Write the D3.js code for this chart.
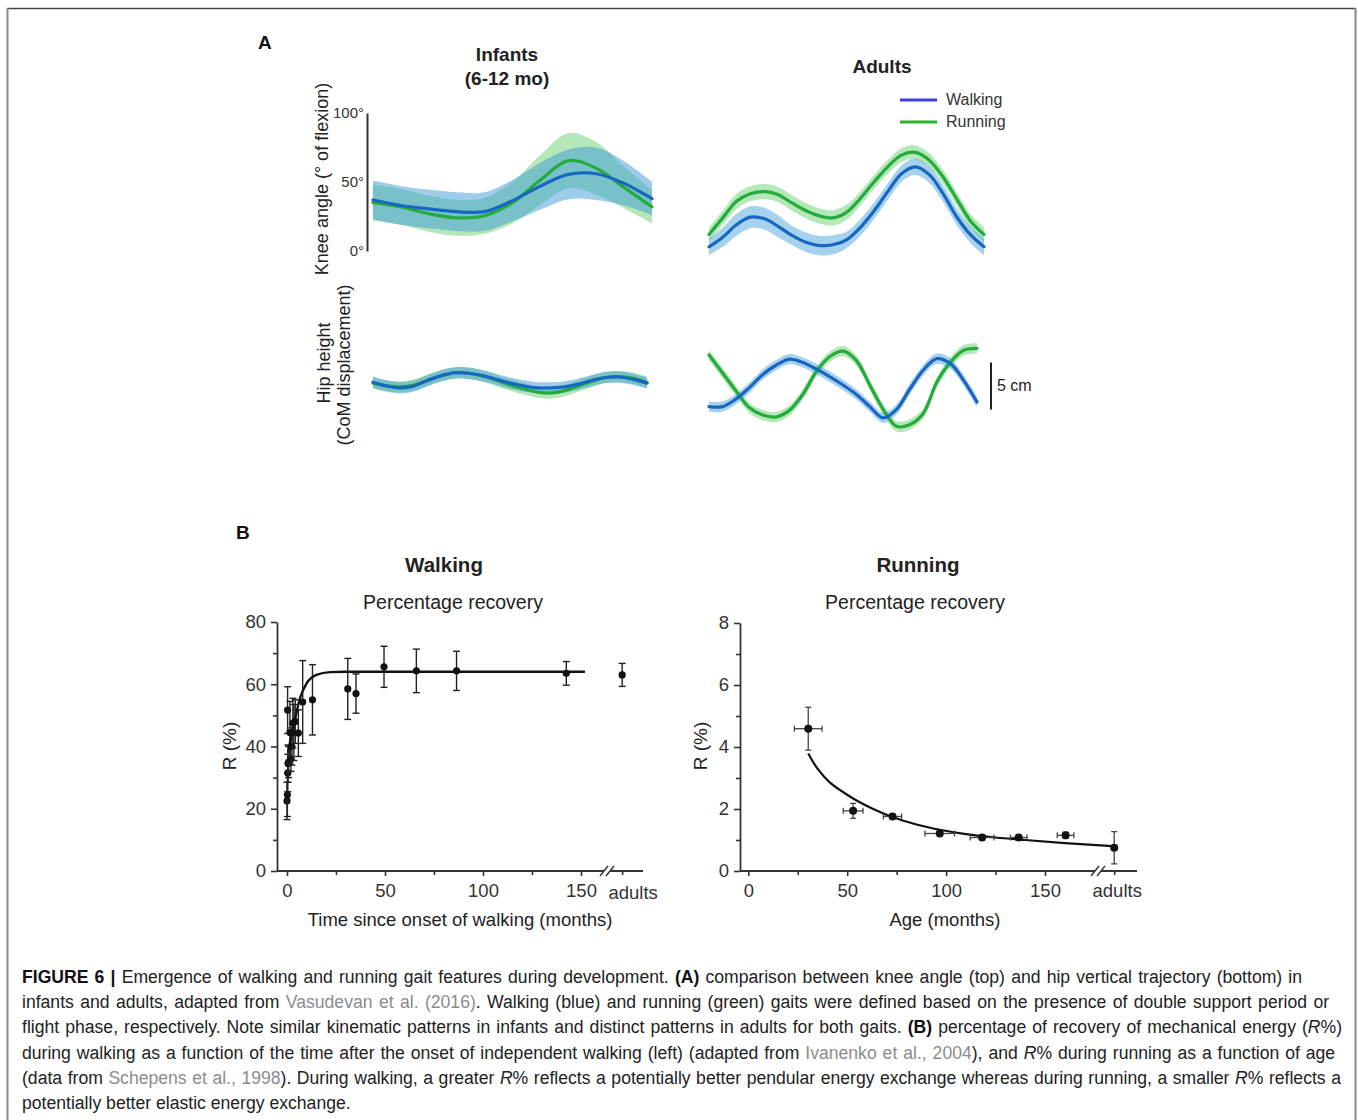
<!DOCTYPE html>
<html>
<head>
<meta charset="utf-8">
<script src="https://cdn.jsdelivr.net/npm/d3@7"></script>
<style>
  body { margin: 0; background: #fff; }
  svg { display: block; font-family: "Liberation Sans", Arial, sans-serif; }
</style>
</head>
<body>
<svg id="fig" width="1358" height="1120"></svg>
<script>
// ---- panel A : gait cycle samples (% of cycle) ----
const cycle11 = [0, 10, 20, 30, 40, 50, 60, 70, 80, 90, 100];
const cycle21 = [0, 5, 10, 15, 20, 25, 30, 35, 40, 45, 50, 55, 60, 65, 70, 75, 80, 85, 90, 95, 100];

// knee angle (deg), infants
const infKneeWalk   = [37, 33, 30.5, 28.5, 28.5, 36.5, 47, 55.5, 56, 49, 38];
const infKneeWalkSD = [14, 14, 14, 14, 14, 15, 17, 18, 19, 16, 12];
const infKneeRun    = [35, 32, 27, 24, 25.5, 35, 51.5, 65.5, 60, 46, 32];
const infKneeRunSD  = [13, 13, 13, 13, 13, 15, 18, 20, 19, 15, 12];

// knee angle (deg), adults
const adKneeWalk   = [3, 10, 19, 24.5, 23.5, 18, 11.5, 6.5, 4, 4.5, 8, 17, 29, 43, 56, 61, 55.5, 42, 25, 12, 3];
const adKneeWalkSD = [6, 7, 8, 8, 8, 8, 7, 7, 7, 7, 6, 6, 6, 6, 6, 6, 6, 6, 6, 6, 6];
const adKneeRun    = [12, 24, 36, 41.5, 43, 41, 35, 29.5, 25.5, 24, 28, 38, 50, 61, 69.5, 71.5, 66, 54, 38, 22, 12];
const adKneeRunSD  = [5, 5, 5.5, 5.5, 5.5, 5.5, 5.5, 5.5, 5.5, 5.5, 5.5, 5, 5, 5, 5, 5, 5, 5, 5, 5, 5];

// hip height (cm), infants
const infHipWalk   = [0.3, -0.1, -0.3, -0.1, 0.5, 1.0, 1.3, 1.25, 1.0, 0.6, 0.2, -0.1, -0.3, -0.3, -0.2, 0.1, 0.5, 0.8, 0.85, 0.6, 0.2];
const infHipWalkSD = [0.6, 0.6, 0.6, 0.6, 0.6, 0.6, 0.6, 0.6, 0.6, 0.6, 0.6, 0.6, 0.6, 0.6, 0.6, 0.6, 0.6, 0.6, 0.6, 0.6, 0.6];
const infHipRun    = [0.2, -0.1, -0.2, 0.0, 0.5, 1.0, 1.3, 1.25, 0.95, 0.5, 0.0, -0.4, -0.75, -0.85, -0.6, -0.1, 0.4, 0.8, 0.9, 0.7, 0.3];
const infHipRunSD  = [0.6, 0.6, 0.6, 0.6, 0.6, 0.6, 0.6, 0.6, 0.6, 0.6, 0.6, 0.6, 0.6, 0.6, 0.6, 0.6, 0.6, 0.6, 0.6, 0.6, 0.6];

// hip height (cm), adults
const adHipWalk   = [-2.3, -2.3, -1.5, -0.3, 1.1, 2.1, 2.75, 2.4, 1.7, 0.9, 0, -1.0, -2.3, -3.5, -2.6, -0.4, 1.6, 2.8, 2.3, 0.5, -1.8];
const adHipWalkSD = [0.55, 0.55, 0.55, 0.55, 0.55, 0.55, 0.55, 0.55, 0.55, 0.55, 0.55, 0.55, 0.55, 0.55, 0.55, 0.55, 0.55, 0.55, 0.55, 0.55, 0.55];
const adHipRun    = [3.2, 1.3, -0.6, -2.4, -3.2, -3.4, -2.7, -1.0, 1.4, 3.0, 3.6, 2.6, 0.0, -2.6, -4.4, -4.2, -3.0, 0.3, 2.4, 3.7, 3.9];
const adHipRunSD  = [0.55, 0.55, 0.55, 0.55, 0.55, 0.55, 0.55, 0.55, 0.55, 0.55, 0.55, 0.55, 0.55, 0.55, 0.55, 0.55, 0.55, 0.55, 0.55, 0.55, 0.55];

const kneeTicks = [0, 50, 100];
const legendItems = ["Walking", "Running"];

// ---- panel B : walking recovery ----
const walkMonths = [0, 0.2, 0.4, 0.5, 0.8, 0.3, 1.5, 2.0, 2.5, 3.0, 3.5, 4.2, 5.8, 8, 13, 31, 35.2, 49.5, 66, 86.5, 142.5];
const walkR      = [22.5, 24.5, 31.5, 34.5, 35, 51.7, 44.5, 36, 40, 47.5, 44.5, 48, 44.3, 54.3, 55, 58.5, 57, 65.6, 64.3, 64.3, 63.5];
const walkErr    = [6, 7, 6, 6, 5, 7.5, 10, 4, 6, 8, 9, 7, 7.5, 13.3, 11.3, 9.8, 6.3, 6.6, 7, 6.3, 3.8];
const walkAdultR = 63, walkAdultErr = 3.7;
const walkFitMonths = [0.6, 2, 4, 6.6, 10, 15, 22, 30, 60, 100, 152];
const walkFitR      = [38, 43, 48.5, 55.5, 60.3, 63, 63.9, 64, 64, 64, 64];
const walkYTicks = [0, 20, 40, 60, 80];
const walkYMinor = [10, 30, 50, 70];

// ---- panel B : running recovery ----
const runMonths = [30.3, 53, 72.9, 96.8, 118.2, 136.7, 160.4];
const runR      = [4.59, 1.94, 1.76, 1.21, 1.08, 1.08, 1.15];
const runYErr   = [0.69, 0.24, 0.08, 0.08, 0.08, 0.08, 0.1];
const runXErr   = [7, 5, 4.6, 7.5, 6, 4.2, 4.2];
const runAdultR = 0.75, runAdultErr = 0.52;
const runFitMonths = [30.3, 35, 41.3, 53, 60, 72.9, 85, 96.8, 110, 125, 140, 160, 184];
const runFitR      = [3.79, 3.3, 2.85, 2.34, 2.1, 1.74, 1.5, 1.33, 1.19, 1.08, 1.0, 0.9, 0.8];
const runYTicks = [0, 2, 4, 6, 8];
const runYMinor = [1, 3, 5, 7];

const xTicks = [0, 50, 100, 150];
const xMinor = [25, 75, 125];

// ---- caption ----
const caption = [
  [["FIGURE 6 | ", "b"], ["Emergence of walking and running gait features during development. ", ""], ["(A)", "b"], [" comparison between knee angle (top) and hip vertical trajectory (bottom) in", ""]],
  [["infants and adults, adapted from ", ""], ["Vasudevan et al. (2016)", "l"], [". Walking (blue) and running (green) gaits were defined based on the presence of double support period or", ""]],
  [["flight phase, respectively. Note similar kinematic patterns in infants and distinct patterns in adults for both gaits. ", ""], ["(B)", "b"], [" percentage of recovery of mechanical energy (", ""], ["R", "i"], ["%)", ""]],
  [["during walking as a function of the time after the onset of independent walking (left) (adapted from ", ""], ["Ivanenko et al., 2004", "l"], ["), and ", ""], ["R", "i"], ["% during running as a function of age", ""]],
  [["(data from ", ""], ["Schepens et al., 1998", "l"], ["). During walking, a greater ", ""], ["R", "i"], ["% reflects a potentially better pendular energy exchange whereas during running, a smaller ", ""], ["R", "i"], ["% reflects a", ""]],
  [["potentially better elastic energy exchange.", ""]]
];

// ====================================================
const svg = d3.select("#fig");
const BLUE = "#1767c2", GREEN = "#23ac3c";
const BLUE_BAND = "#3c9bd7", GREEN_BAND = "#46c350";

// frame
svg.append("line").attr("x1", 7).attr("x2", 1356).attr("y1", 8.5).attr("y2", 8.5).attr("stroke", "#444").attr("stroke-width", 1.6);
svg.append("line").attr("x1", 7.5).attr("x2", 7.5).attr("y1", 8).attr("y2", 1120).attr("stroke", "#888").attr("stroke-width", 2);
svg.append("line").attr("x1", 1355.5).attr("x2", 1355.5).attr("y1", 8).attr("y2", 1120).attr("stroke", "#888").attr("stroke-width", 2);

function txt(g, x, y, s, size, opts = {}) {
  return g.append("text").attr("x", x).attr("y", y).text(s)
    .attr("font-size", size)
    .attr("font-weight", opts.bold ? "bold" : null)
    .attr("text-anchor", opts.anchor || "middle")
    .attr("fill", opts.fill || "#222");
}
function vtxt(g, x, y, s, size) {
  return g.append("text").attr("transform", `translate(${x},${y}) rotate(-90)`)
    .attr("text-anchor", "middle").attr("dominant-baseline", "central")
    .attr("font-size", size).attr("fill", "#222").text(s);
}

function drawBand(g, xs, mean, sd, x, y, fill, op) {
  const area = d3.area()
    .x((d, i) => x(xs[i]))
    .y0((d, i) => y(mean[i] - sd[i]))
    .y1((d, i) => y(mean[i] + sd[i]))
    .curve(d3.curveCatmullRom);
  g.append("path").datum(mean).attr("d", area).attr("fill", fill).attr("fill-opacity", op);
}
function drawMean(g, xs, mean, x, y, color) {
  const line = d3.line().x((d, i) => x(xs[i])).y(d => y(d)).curve(d3.curveCatmullRom);
  g.append("path").datum(mean).attr("d", line).attr("fill", "none")
    .attr("stroke", color).attr("stroke-width", 3.2).attr("stroke-linecap", "round");
}

// ---------------- panel A ----------------
const gA = svg.append("g");
txt(gA, 258, 49, "A", 19, { bold: true, anchor: "start", fill: "#111" });
txt(gA, 507, 61, "Infants", 19, { bold: true });
txt(gA, 507, 85, "(6-12 mo)", 19, { bold: true });
txt(gA, 882, 73, "Adults", 19, { bold: true });

const kneeY = d3.scaleLinear().domain([0, 100]).range([251, 113]);
const hipY = d3.scaleLinear().domain([-5, 5]).range([432, 338]);
const infKneeX = d3.scaleLinear().domain([0, 100]).range([373, 652]);
const adKneeX = d3.scaleLinear().domain([0, 100]).range([709, 984]);
const infHipX = d3.scaleLinear().domain([0, 100]).range([373, 647]);
const adHipX = d3.scaleLinear().domain([0, 100]).range([709, 977]);

// knee axis
const kAxis = gA.append("g").attr("transform", "translate(367,0)")
  .call(d3.axisLeft(kneeY).tickValues(kneeTicks).tickFormat(d => d + "°").tickSize(0).tickSizeOuter(0).tickPadding(3));
kAxis.select(".domain").attr("stroke", "#333").attr("stroke-width", 2);
kAxis.selectAll("text").attr("font-size", 15).attr("fill", "#333").attr("font-family", "Liberation Sans, Arial, sans-serif");

vtxt(gA, 322, 179, "Knee angle (° of flexion)", 18);
vtxt(gA, 324, 363, "Hip height", 18);
vtxt(gA, 344, 365, "(CoM displacement)", 18);

// infants knee
drawBand(gA, cycle11, infKneeRun, infKneeRunSD, infKneeX, kneeY, GREEN_BAND, 0.4);
drawBand(gA, cycle11, infKneeWalk, infKneeWalkSD, infKneeX, kneeY, BLUE_BAND, 0.5);
drawMean(gA, cycle11, infKneeRun, infKneeX, kneeY, GREEN);
drawMean(gA, cycle11, infKneeWalk, infKneeX, kneeY, BLUE);

// adults knee
drawBand(gA, cycle21, adKneeRun, adKneeRunSD, adKneeX, kneeY, GREEN_BAND, 0.4);
drawBand(gA, cycle21, adKneeWalk, adKneeWalkSD, adKneeX, kneeY, BLUE_BAND, 0.45);
drawMean(gA, cycle21, adKneeRun, adKneeX, kneeY, GREEN);
drawMean(gA, cycle21, adKneeWalk, adKneeX, kneeY, BLUE);

// infants hip
drawBand(gA, cycle21, infHipRun, infHipRunSD, infHipX, hipY, GREEN_BAND, 0.4);
drawBand(gA, cycle21, infHipWalk, infHipWalkSD, infHipX, hipY, BLUE_BAND, 0.5);
drawMean(gA, cycle21, infHipRun, infHipX, hipY, GREEN);
drawMean(gA, cycle21, infHipWalk, infHipX, hipY, BLUE);

// adults hip
drawBand(gA, cycle21, adHipRun, adHipRunSD, adHipX, hipY, GREEN_BAND, 0.4);
drawBand(gA, cycle21, adHipWalk, adHipWalkSD, adHipX, hipY, BLUE_BAND, 0.45);
drawMean(gA, cycle21, adHipRun, adHipX, hipY, GREEN);
drawMean(gA, cycle21, adHipWalk, adHipX, hipY, BLUE);

// 5 cm scale bar
gA.append("line").attr("x1", 991).attr("x2", 991)
  .attr("y1", hipY(-2.6)).attr("y2", hipY(2.4))
  .attr("stroke", "#222").attr("stroke-width", 2);
txt(gA, 997, 391, "5 cm", 16, { anchor: "start" });

// legend
const legColors = ["#3d3de6", "#27b52a"];
legendItems.forEach((name, i) => {
  const y = 100 + i * 22;
  gA.append("line").attr("x1", 900).attr("x2", 937).attr("y1", y).attr("y2", y)
    .attr("stroke", legColors[i]).attr("stroke-width", 3);
  txt(gA, 946, y + 5, name, 16, { anchor: "start", fill: "#333" });
});

// ---------------- panel B ----------------
const gB = svg.append("g");
txt(gB, 236, 539, "B", 19, { bold: true, anchor: "start", fill: "#111" });

function breakMark(g, x, y) {
  g.append("rect").attr("x", x - 3).attr("y", y - 3).attr("width", 6).attr("height", 6).attr("fill", "#fff");
  [-3, 3].forEach(dx => {
    g.append("line").attr("x1", x + dx - 4).attr("y1", y + 5).attr("x2", x + dx + 4).attr("y2", y - 5)
      .attr("stroke", "#333").attr("stroke-width", 1.4);
  });
}

function styleAxis(sel, withText) {
  sel.selectAll(".tick line").attr("stroke", "#333").attr("stroke-width", 1.6);
  sel.selectAll("text").attr("font-size", withText ? 18.5 : 0).attr("fill", "#333")
    .attr("font-family", "Liberation Sans, Arial, sans-serif");
}

function recoveryPanel(opt) {
  const g = gB.append("g");
  const x = opt.x, y = opt.y;
  const y0 = y.range()[0];

  txt(g, opt.titleX, 572, opt.title, 20.5, { bold: true });
  txt(g, opt.subX, 609, "Percentage recovery", 19.5);

  // y axis
  const ya = g.append("g").attr("transform", `translate(${opt.axisX},0)`)
    .call(d3.axisLeft(y).tickValues(opt.yTicks).tickSize(6).tickSizeOuter(0).tickPadding(5));
  ya.select(".domain").attr("stroke", "#333").attr("stroke-width", 1.8);
  styleAxis(ya, true);
  const ym = g.append("g").attr("transform", `translate(${opt.axisX},0)`)
    .call(d3.axisLeft(y).tickValues(opt.yMinor).tickSize(4).tickFormat(""));
  ym.select(".domain").remove();
  styleAxis(ym, false);

  // x axis
  g.append("line").attr("x1", opt.axisX).attr("x2", opt.xEnd).attr("y1", y0).attr("y2", y0)
    .attr("stroke", "#333").attr("stroke-width", 1.8);
  const xa = g.append("g").attr("transform", `translate(0,${y0})`)
    .call(d3.axisBottom(x).tickValues(xTicks).tickSize(5).tickPadding(8));
  xa.select(".domain").remove();
  styleAxis(xa, true);
  const xm = g.append("g").attr("transform", `translate(0,${y0})`)
    .call(d3.axisBottom(x).tickValues(xMinor.concat([opt.adultPos])).tickSize(4).tickFormat(""));
  xm.select(".domain").remove();
  styleAxis(xm, false);
  txt(g, x(opt.adultPos) + opt.adultDx, y0 + opt.adultDy, "adults", 18.5, { fill: "#333" });
  breakMark(g, opt.breakX, y0);

  txt(g, opt.xTitleX, 926, opt.xTitle, 18.5);
  vtxt(g, opt.yTitleX, 746, "R (%)", 19);

  return g;
}

// walking
const walkX = d3.scaleLinear().domain([0, 150]).range([287, 581]);
const walkY = d3.scaleLinear().domain([0, 80]).range([871, 622]);
const gWalk = recoveryPanel({
  x: walkX, y: walkY, axisX: 277, xEnd: 643, yTicks: walkYTicks, yMinor: walkYMinor,
  adultPos: 171, adultDx: 11, adultDy: 28, breakX: 607, title: "Walking", titleX: 444, subX: 453,
  xTitle: "Time since onset of walking (months)", xTitleX: 460, yTitleX: 229
});

const walkPts = walkMonths.map((m, i) => ({ m, r: walkR[i], e: walkErr[i] }));
walkPts.push({ m: 171, r: walkAdultR, e: walkAdultErr });
const wp = gWalk.append("g");
walkPts.forEach(p => {
  const cx = walkX(p.m);
  wp.append("line").attr("x1", cx).attr("x2", cx).attr("y1", walkY(p.r - p.e)).attr("y2", walkY(p.r + p.e))
    .attr("stroke", "#222").attr("stroke-width", 1.4);
  [p.r - p.e, p.r + p.e].forEach(v => {
    wp.append("line").attr("x1", cx - 3.5).attr("x2", cx + 3.5).attr("y1", walkY(v)).attr("y2", walkY(v))
      .attr("stroke", "#222").attr("stroke-width", 1.4);
  });
  wp.append("circle").attr("cx", cx).attr("cy", walkY(p.r)).attr("r", 3.6).attr("fill", "#111");
});
gWalk.append("path").datum(walkFitMonths)
  .attr("d", d3.line().x(d => walkX(d)).y((d, i) => walkY(walkFitR[i])).curve(d3.curveMonotoneX))
  .attr("fill", "none").attr("stroke", "#111").attr("stroke-width", 2.4);

// running
const runX = d3.scaleLinear().domain([0, 150]).range([748.3, 1045]);
const runY = d3.scaleLinear().domain([0, 8]).range([871, 623]);
const gRun = recoveryPanel({
  x: runX, y: runY, axisX: 740, xEnd: 1137, yTicks: runYTicks, yMinor: runYMinor,
  adultPos: 185, adultDx: 3, adultDy: 26, breakX: 1098, title: "Running", titleX: 918, subX: 915,
  xTitle: "Age (months)", xTitleX: 945, yTitleX: 700
});

gRun.append("path").datum(runFitMonths)
  .attr("d", d3.line().x(d => runX(d)).y((d, i) => runY(runFitR[i])).curve(d3.curveCatmullRom))
  .attr("fill", "none").attr("stroke", "#111").attr("stroke-width", 2.2);

const runPts = runMonths.map((m, i) => ({ m, r: runR[i], ey: runYErr[i], ex: runXErr[i] }));
runPts.push({ m: 185, r: runAdultR, ey: runAdultErr, ex: 0 });
const rp = gRun.append("g");
runPts.forEach(p => {
  const cx = runX(p.m), cy = runY(p.r);
  const col = "#444";
  rp.append("line").attr("x1", cx).attr("x2", cx).attr("y1", runY(p.r - p.ey)).attr("y2", runY(p.r + p.ey))
    .attr("stroke", col).attr("stroke-width", 1.3);
  [p.r - p.ey, p.r + p.ey].forEach(v => {
    rp.append("line").attr("x1", cx - 3).attr("x2", cx + 3).attr("y1", runY(v)).attr("y2", runY(v))
      .attr("stroke", col).attr("stroke-width", 1.3);
  });
  if (p.ex > 0) {
    rp.append("line").attr("x1", runX(p.m - p.ex)).attr("x2", runX(p.m + p.ex)).attr("y1", cy).attr("y2", cy)
      .attr("stroke", col).attr("stroke-width", 1.3);
    [p.m - p.ex, p.m + p.ex].forEach(v => {
      rp.append("line").attr("x1", runX(v)).attr("x2", runX(v)).attr("y1", cy - 3).attr("y2", cy + 3)
        .attr("stroke", col).attr("stroke-width", 1.3);
    });
  }
  rp.append("circle").attr("cx", cx).attr("cy", cy).attr("r", 4).attr("fill", "#111");
});

// ---------------- caption ----------------
// justified lines: words are spread with word-spacing, glyphs keep their shape
const capRight = [1302, 1329, 1342, 1335, 1341, null];
const gC = svg.append("g");
caption.forEach((segs, i) => {
  const t = gC.append("text").attr("x", 22).attr("y", 983 + i * 25.2)
    .attr("font-size", 17.6).attr("fill", "#222");
  segs.forEach(([s, st]) => {
    const ts = t.append("tspan").text(s);
    if (st === "b") ts.attr("font-weight", "bold").attr("fill", "#111");
    if (st === "i") ts.attr("font-style", "italic");
    if (st === "l") ts.attr("fill", "#8c8c8c");
  });
  const target = capRight[i];
  if (target) {
    const w = t.node().getComputedTextLength();
    const spaces = segs.map(s => s[0]).join("").split(" ").length - 1;
    let ws = (target - 22 - w) / spaces;
    if (ws < -1.2) {            // too long even when tightened: shrink the font a bit
      const fs = 17.6 * (target - 22 + 1.2 * spaces) / w;
      t.attr("font-size", fs.toFixed(2));
      ws = (target - 22 - t.node().getComputedTextLength()) / spaces;
    }
    t.attr("word-spacing", ws.toFixed(2));
  }
});
</script>
</body>
</html>
